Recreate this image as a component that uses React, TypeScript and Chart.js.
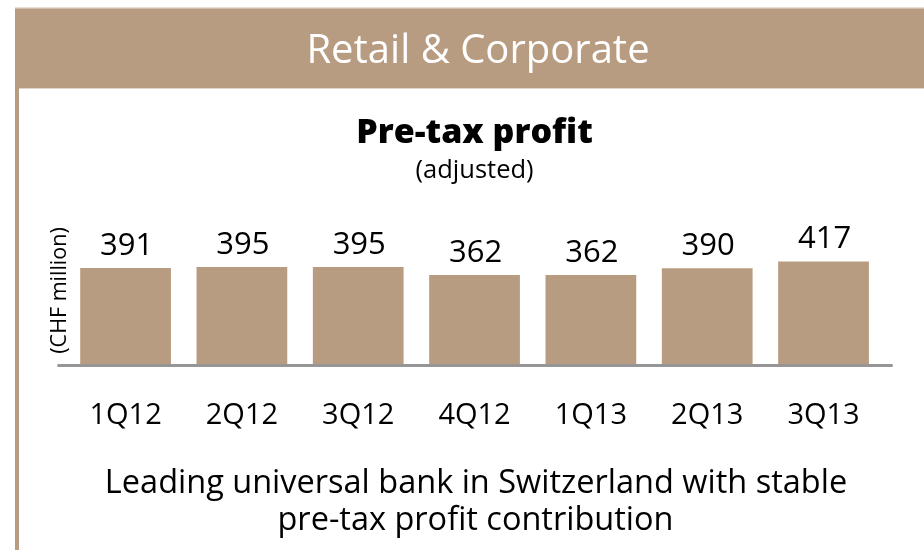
import React, { useEffect, useRef } from 'react';
import { Chart, registerables } from 'chart.js';

Chart.register(...registerables);

const categories = ['1Q12', '2Q12', '3Q12', '4Q12', '1Q13', '2Q13', '3Q13'];
const profit = [391, 395, 395, 362, 362, 390, 417];
const headerTitle = 'Retail & Corporate';
const chartTitle = 'Pre-tax profit';
const chartSubtitle = '(adjusted)';
const yAxisLabel = '(CHF million)';
const footerLines = [
  'Leading universal bank in Switzerland with stable',
  'pre-tax profit contribution',
];

const TAN = '#B89C81';
const FONT = '"Open Sans", "Noto Sans", sans-serif';

const decorPlugin = {
  id: 'decor',
  beforeDraw(chart: any) {
    const ctx = chart.ctx as CanvasRenderingContext2D;
    const w = chart.width;
    const h = chart.height;
    ctx.save();
    ctx.fillStyle = '#fff';
    ctx.fillRect(0, 0, w, h);
    ctx.fillStyle = '#E9DED3';
    ctx.fillRect(15, 7, w - 15, 2);
    ctx.fillStyle = TAN;
    ctx.fillRect(15, 8.5, w - 15, 79.5);
    ctx.fillRect(15, 88, 4, h - 88);
    ctx.fillStyle = '#E2D5C8';
    ctx.fillRect(19, 88, w - 19, 1);
    ctx.fillStyle = '#ffffff';
    ctx.font = `40px ${FONT}`;
    ctx.textAlign = 'center';
    ctx.textBaseline = 'alphabetic';
    ctx.fillText(headerTitle, 478, 63);
    ctx.fillStyle = '#000';
    ctx.font = `32.5px ${FONT}`;
    ctx.fillText(footerLines[0], 476, 493);
    ctx.fillText(footerLines[1], 475.5, 530);
    ctx.restore();
  },
  afterDatasetsDraw(chart: any) {
    const ctx = chart.ctx as CanvasRenderingContext2D;
    const meta = chart.getDatasetMeta(0);
    const area = chart.chartArea;
    const y0 = chart.scales.y.getPixelForValue(0);
    ctx.save();
    ctx.fillStyle = '#969696';
    ctx.fillRect(area.left - 10, y0 - 1, area.right - area.left + 21, 3);
    ctx.fillStyle = '#000';
    ctx.font = `31px ${FONT}`;
    ctx.textAlign = 'center';
    ctx.textBaseline = 'alphabetic';
    meta.data.forEach((el: any, i: number) => {
      ctx.fillText(String(profit[i]), el.x + 1, el.y - 13);
    });
    ctx.restore();
  },
};

export default function App() {
  const ref = useRef<HTMLCanvasElement | null>(null);
  useEffect(() => {
    if (!ref.current) return;
    const chart = new Chart(ref.current, {
      type: 'bar',
      data: {
        labels: categories,
        datasets: [
          {
            data: profit,
            backgroundColor: TAN,
            borderWidth: 0,
            barPercentage: 0.78,
            categoryPercentage: 1,
          },
        ],
      },
      options: {
        responsive: false,
        animation: false,
        devicePixelRatio: 1,
        layout: { padding: { left: 37.4, right: 42.3, top: 118, bottom: 83.2 } },
        plugins: {
          legend: { display: false },
          tooltip: { enabled: false },
          title: {
            display: true,
            text: chartTitle,
            fullSize: false,
            color: '#000',
            font: { family: FONT, size: 34, weight: '800', lineHeight: 0.9 },
            padding: { top: 0, bottom: 9.4 },
          },
          subtitle: {
            display: true,
            text: chartSubtitle,
            fullSize: false,
            color: '#000',
            font: { family: FONT, size: 25.5, lineHeight: 1 },
            padding: { top: 0, bottom: 32.5 },
          },
        },
        scales: {
          x: {
            grid: { display: false, drawTicks: false },
            border: { display: false },
            ticks: {
              color: '#000',
              font: { family: FONT, size: 29 },
              padding: 33.5,
              maxRotation: 0,
            },
          },
          y: {
            min: 0,
            max: 600,
            grid: { display: false, drawTicks: false },
            border: { display: false },
            ticks: { display: false },
            title: {
              display: true,
              text: yAxisLabel,
              color: '#000',
              font: { family: FONT, size: 21.5 },
              padding: { top: 10, bottom: 0 },
            },
            afterFit: (s: any) => {
              s.width = 30;
            },
          },
        },
      },
      plugins: [decorPlugin],
    });
    return () => chart.destroy();
  }, []);
  return (
    <div style={{ position: 'absolute', left: 0, top: 0, width: 924, height: 550 }}>
      <canvas ref={ref} width={924} height={550} style={{ display: 'block' }} />
    </div>
  );
}
